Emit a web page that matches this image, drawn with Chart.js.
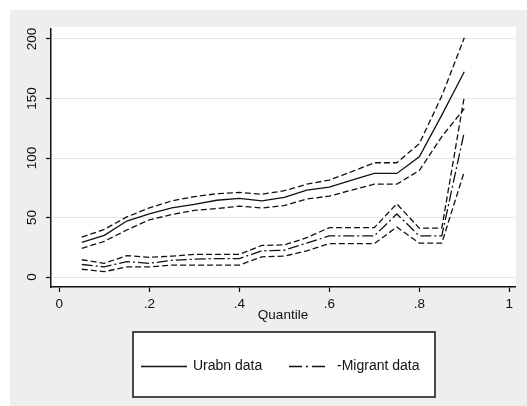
<!DOCTYPE html>
<html>
<head>
<meta charset="utf-8">
<script src="https://cdn.jsdelivr.net/npm/chart.js@4.4.0/dist/chart.umd.min.js"></script>
<style>
  html, body { margin: 0; padding: 0; background: #fff; }
  canvas { display: block; }
</style>
</head>
<body>
<canvas id="chart" width="527" height="406"></canvas>
<script>
const quantiles = [0.05, 0.1, 0.15, 0.2, 0.25, 0.3, 0.35, 0.4, 0.45, 0.5, 0.55, 0.6, 0.65, 0.7, 0.75, 0.8, 0.85, 0.9];

const urbanMid = [29, 35, 47, 53, 58, 61, 64.5, 66, 64, 67, 73, 75.5, 81.5, 87, 87, 101, 136, 172.5];
const urbanHigh = [33.5, 40, 50.5, 58, 64, 67.5, 70, 71, 69.5, 72.5, 78, 81.5, 88.5, 96, 96, 112, 152, 201];
const urbanLow = [24, 30, 39.5, 48, 52.5, 56, 57.5, 59.5, 58, 60, 65.5, 68, 73, 78, 78, 89.5, 118, 141.5];

const migrantMid = [10.5, 8.5, 13, 11.5, 14, 15, 15.5, 15.5, 22, 22.5, 28.5, 34.5, 34.5, 34.5, 53, 34.5, 34.5, 122];
const migrantHigh = [14.5, 11.5, 18, 16.5, 17.5, 19, 19, 19, 26.5, 27, 33, 41.5, 41.5, 41.5, 61.5, 41, 41, 151.5];
const migrantLow = [6.5, 4.5, 8.5, 8.5, 10, 10, 10, 10, 17, 17.5, 22, 28, 28, 28, 42, 28.5, 28.5, 88.5];

const xTickValues = [0, 0.2, 0.4, 0.6, 0.8, 1];
const xTickLabels = ['0', '.2', '.4', '.6', '.8', '1'];
const yTickValues = [0, 50, 100, 150, 200];
const yTickLabels = ['0', '50', '100', '150', '200'];

const legendLabels = ['Urabn data', '-Migrant data'];
const xTitle = 'Quantile';

const FONT = "'Liberation Sans', Arial, sans-serif";
const INK = '#111111';

let toPoints = (ys) => quantiles.map((q, i) => ({ x: q, y: ys[i] }));

let lineSet = (label, ys, dash) => ({
    label: label,
    data: toPoints(ys),
    borderColor: INK,
    borderWidth: 1.3,
    borderDash: dash,
    pointRadius: 0,
    tension: 0,
    fill: false
});

const DASH = [6, 3];
const DASH_DOT = [11, 3, 2, 3];

// panel background, white plot region, legend box
const framePlugin = {
    id: 'frame',
    beforeDraw(chart) {
        const ctx = chart.ctx;
        const a = chart.chartArea;
        ctx.save();
        ctx.fillStyle = '#ffffff';
        ctx.fillRect(0, 0, chart.width, chart.height);
        ctx.fillStyle = '#eeeeee';
        ctx.fillRect(10, 10, chart.width - 10, chart.height - 10);
        ctx.fillStyle = '#ffffff';
        ctx.fillRect(a.left, a.top - 2, a.right - a.left + 1, a.bottom - a.top + 2);
        ctx.restore();
    },
    afterDraw(chart) {
        const ctx = chart.ctx;
        ctx.save();
        ctx.fillStyle = '#ffffff';
        ctx.fillRect(133, 332, 302, 65);
        ctx.strokeStyle = '#111';
        ctx.lineWidth = 1.5;
        ctx.strokeRect(133, 332, 302, 65);

        const ly = 366.5;
        ctx.strokeStyle = INK;
        ctx.lineWidth = 1.3;
        ctx.setLineDash([]);
        ctx.beginPath();
        ctx.moveTo(141, ly);
        ctx.lineTo(187, ly);
        ctx.stroke();
        ctx.setLineDash([13, 4, 2, 4]);
        ctx.beginPath();
        ctx.moveTo(289, ly);
        ctx.lineTo(326, ly);
        ctx.stroke();
        ctx.setLineDash([]);

        ctx.fillStyle = INK;
        ctx.font = '14px ' + FONT;
        ctx.textBaseline = 'middle';
        ctx.textAlign = 'left';
        ctx.fillText(legendLabels[0], 193, ly);
        ctx.fillText(legendLabels[1], 337, ly);
        ctx.restore();
    }
};

new Chart(document.getElementById('chart'), {
    type: 'line',
    data: {
        datasets: [
            lineSet('Urban', urbanMid, []),
            lineSet('Urban upper', urbanHigh, DASH),
            lineSet('Urban lower', urbanLow, DASH),
            lineSet('Migrant', migrantMid, DASH_DOT),
            lineSet('Migrant upper', migrantHigh, DASH),
            lineSet('Migrant lower', migrantLow, DASH)
        ]
    },
    options: {
        responsive: false,
        animation: false,
        devicePixelRatio: 1,
        layout: { padding: { left: 0, top: 29, right: 12, bottom: 79 } },
        plugins: {
            legend: { display: false },
            tooltip: { enabled: false }
        },
        scales: {
            x: {
                type: 'linear',
                min: -0.0184,
                max: 1.0127,
                afterBuildTicks: (axis) => { axis.ticks = xTickValues.map(v => ({ value: v })); },
                afterFit: (axis) => { axis.height = 40; },
                ticks: {
                    callback: (value, index) => xTickLabels[index],
                    font: { family: FONT, size: 13.5 },
                    color: INK,
                    padding: 4,
                    autoSkip: false,
                    maxRotation: 0
                },
                grid: { drawOnChartArea: false, drawTicks: true, tickLength: 5, tickColor: '#111', tickWidth: 1.2 },
                border: { display: true, color: '#111', width: 1.5 },
                title: {
                    display: true,
                    text: xTitle,
                    font: { family: FONT, size: 13.5 },
                    color: INK,
                    padding: { top: 0, bottom: 4 }
                }
            },
            y: {
                type: 'linear',
                min: -8.4,
                max: 208.4,
                afterBuildTicks: (axis) => { axis.ticks = yTickValues.map(v => ({ value: v })); },
                afterFit: (axis) => { axis.width = 51; },
                ticks: {
                    callback: (value, index) => yTickLabels[index],
                    font: { family: FONT, size: 13.5 },
                    color: INK,
                    padding: 2,
                    minRotation: 90,
                    maxRotation: 90,
                    crossAlign: 'center',
                    autoSkip: false
                },
                grid: { color: '#e4e4e4', lineWidth: 1, drawTicks: true, tickLength: 5, tickColor: '#111', tickWidth: 1.2 },
                border: { display: true, color: '#111', width: 1.5 }
            }
        }
    },
    plugins: [framePlugin]
});
</script>
</body>
</html>
